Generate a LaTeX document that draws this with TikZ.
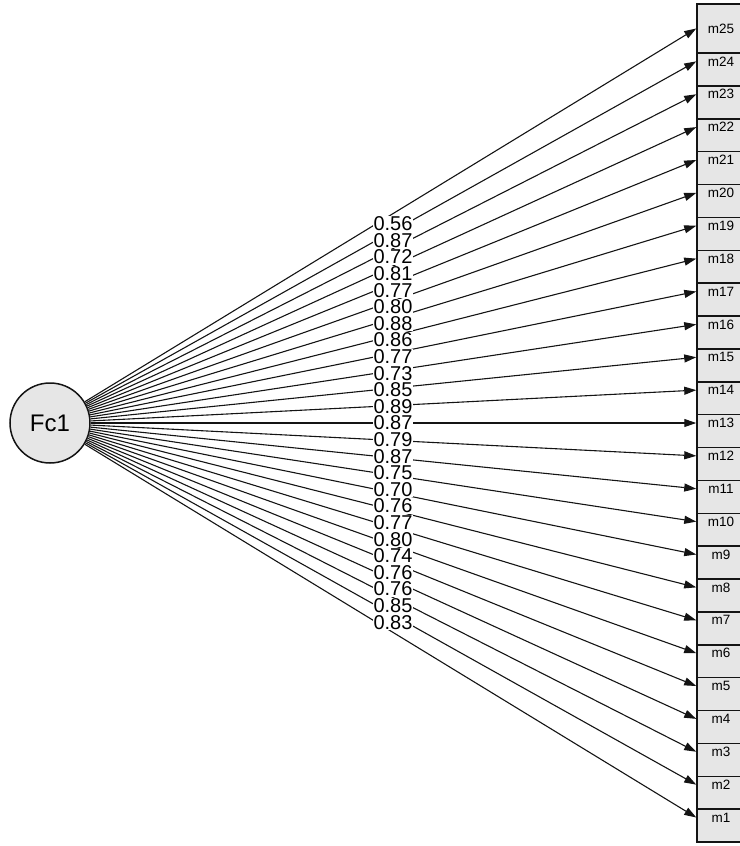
\documentclass[tikz,border=0pt]{standalone}
\usepackage{fontspec}
\setsansfont{Liberation Sans}
\usetikzlibrary{arrows.meta}
\definecolor{cfill}{HTML}{E6E6E6}
\definecolor{cline}{HTML}{141414}
\tikzset{
  every picture/.style={font=\sffamily, line width=1pt},
  latent/.style={circle, draw=cline, fill=cfill, line width=1.5pt, minimum size=80pt, inner sep=0pt, font=\sffamily\fontsize{24}{24}\selectfont},
  manifest/.style={rectangle, draw=cline, fill=cfill, line width=1.5pt, minimum width=48pt, minimum height=49pt, inner sep=0pt, font=\sffamily\fontsize{13.5}{13.5}\selectfont},
  loadarrow/.style={-{Triangle[length=12pt, width=8pt]}, draw=cline, line width=1.1pt},
  loading/.style={fill=white, inner sep=1pt, font=\sffamily\fontsize{20}{20}\selectfont},
}

\begin{document}
\begin{tikzpicture}[x=1pt, y=-1pt]
  \useasboundingbox (0,0) rectangle (739,846);
  \node[latent] (fc1) at (50,423) {Fc1};
  % indicators, m1 first so that each box covers the top of the one below
  \foreach \k in {1,...,25}
    \node[manifest] (m\k) at (721, {817.5-(\k-1)*32.875}) {m\k};
  \foreach \k in {1,...,25}
    \draw[loadarrow] (fc1) -- (m\k.west);
  % loadings, one column in the middle
  \foreach \k/\w in {1/0.83, 2/0.85, 3/0.76, 4/0.76, 5/0.74, 6/0.80, 7/0.77, 8/0.76, 9/0.70, 10/0.75,
                     11/0.87, 12/0.79, 13/0.87, 14/0.89, 15/0.85, 16/0.73, 17/0.77, 18/0.86, 19/0.88,
                     20/0.80, 21/0.77, 22/0.81, 23/0.72, 24/0.87, 25/0.56}
    \node[loading] (w\k) at (393, {423+(394.5-(\k-1)*32.875)*0.505}) {\w};
\end{tikzpicture}
\end{document}
